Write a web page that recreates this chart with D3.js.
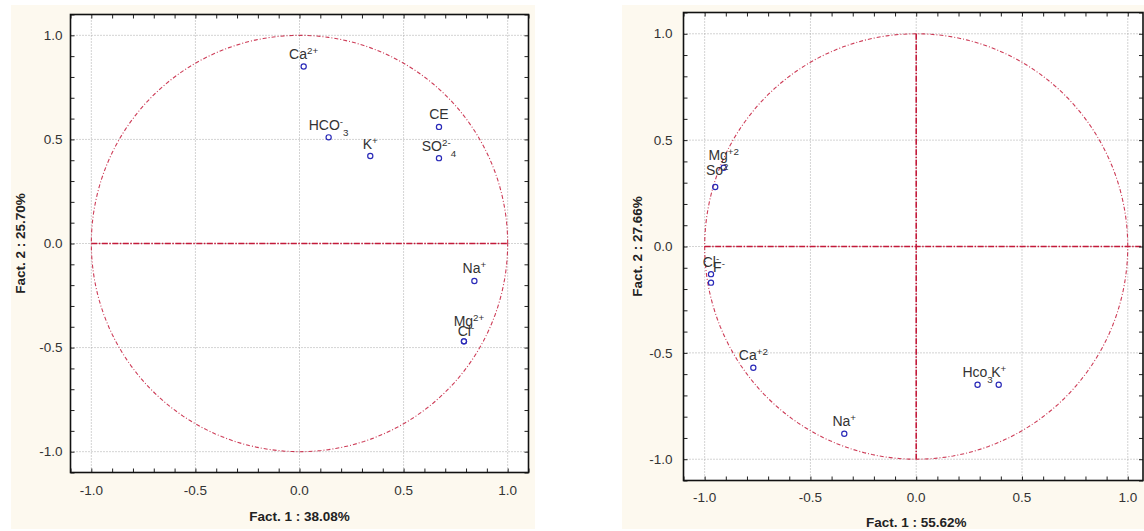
<!DOCTYPE html>
<html>
<head>
<meta charset="utf-8">
<script src="https://cdn.jsdelivr.net/npm/d3@7"></script>
<style>
  html, body { margin: 0; padding: 0; background: #fff; }
  svg { display: block; font-family: Arial, "Liberation Sans", sans-serif; }
</style>
</head>
<body>
<svg id="chart" width="1144" height="531"></svg>
<script>
// left plot: factor loadings, 38.08% / 25.70%
const leftNames = ["Ca^{2+}", "HCO^{-}_{3}", "K^{+}", "CE", "SO^{2-}_{4}", "Na^{+}", "Mg^{2+}", "Cl^{-}"];
const leftF1 = [0.02, 0.14, 0.34, 0.67, 0.67, 0.84, 0.79, 0.79];
const leftF2 = [0.85, 0.51, 0.42, 0.56, 0.41, -0.18, -0.47, -0.47];

// right plot: factor loadings, 55.62% / 27.66%
const rightNames = ["Mg^{+2}", "So^{2}", "Cl^{-}", "F^{-}", "Ca^{+2}", "Na^{+}", "Hco_{3}", "K^{+}"];
const rightF1 = [-0.91, -0.95, -0.97, -0.97, -0.77, -0.34, 0.29, 0.39];
const rightF2 = [0.37, 0.28, -0.13, -0.17, -0.57, -0.88, -0.65, -0.65];

const tickValues = [-1.0, -0.5, 0.0, 0.5, 1.0];
const minorTicks = d3.range(-11, 12).map(d => d / 10);
const xTitles = ["Fact. 1  : 38.08%", "Fact. 1  : 55.62%"];
const yTitles = ["Fact. 2  : 25.70%", "Fact. 2  : 27.66%"];

const RED = "#c41a3a";
const BLUE = "#2a2ab8";

const svg = d3.select("#chart");

// crude label markup: ^{..} superscript, _{..} subscript
function writeLabel(textSel, s) {
    const parts = s.match(/\^\{[^}]*\}|_\{[^}]*\}|[^^_]+/g);
    parts.forEach(p => {
        if (p[0] === "^") {
            textSel.append("tspan").attr("baseline-shift", "super")
                .attr("font-size", "70%").text(p.slice(2, -1));
        } else if (p[0] === "_") {
            textSel.append("tspan").attr("baseline-shift", "sub")
                .attr("font-size", "70%").text(p.slice(2, -1));
        } else {
            textSel.append("tspan").text(p);
        }
    });
}

function drawPanel(cfg) {
    const g = svg.append("g");

    g.append("rect")
        .attr("x", cfg.bg[0]).attr("y", cfg.bg[1])
        .attr("width", cfg.bg[2] - cfg.bg[0]).attr("height", cfg.bg[3] - cfg.bg[1])
        .attr("fill", "#fdf9ef");

    const x = d3.scaleLinear().domain(cfg.xDomain).range([cfg.left, cfg.right]);
    const y = d3.scaleLinear().domain([-1.1, 1.1]).range([cfg.bottom, cfg.top]);

    g.append("rect")
        .attr("x", cfg.left).attr("y", cfg.top)
        .attr("width", cfg.right - cfg.left).attr("height", cfg.bottom - cfg.top)
        .attr("fill", "#fff");

    // dotted grid at major ticks
    const grid = g.append("g")
        .attr("stroke", "#a8a8a8").attr("stroke-width", 1)
        .attr("stroke-dasharray", "1,2");
    grid.selectAll(".gx").data(tickValues).join("line")
        .attr("x1", d => x(d)).attr("x2", d => x(d))
        .attr("y1", cfg.top).attr("y2", cfg.bottom);
    grid.selectAll(".gy").data(tickValues).join("line")
        .attr("y1", d => y(d)).attr("y2", d => y(d))
        .attr("x1", cfg.left).attr("x2", cfg.right);

    const clipId = "clip" + cfg.id;
    svg.append("clipPath").attr("id", clipId)
        .append("rect")
        .attr("x", cfg.left).attr("y", cfg.top)
        .attr("width", cfg.right - cfg.left).attr("height", cfg.bottom - cfg.top);
    const plot = g.append("g").attr("clip-path", `url(#${clipId})`);

    // unit circle
    const circ = d3.range(0, 361, 2).map(a => [Math.cos(a * Math.PI / 180), Math.sin(a * Math.PI / 180)]);
    plot.append("path")
        .attr("d", d3.line().x(d => x(d[0])).y(d => y(d[1]))(circ))
        .attr("fill", "none").attr("stroke", RED).attr("stroke-width", 1.1)
        .attr("stroke-dasharray", "4,2,1,2").attr("opacity", 0.85);

    // zero lines
    plot.append("line")
        .attr("x1", x(-1)).attr("x2", x(cfg.hLineEnd))
        .attr("y1", y(0)).attr("y2", y(0))
        .attr("stroke", RED).attr("stroke-width", 1.6)
        .attr("stroke-dasharray", "6,1.5,1.5,1.5");
    if (cfg.vLine) {
        plot.append("line")
            .attr("x1", x(0)).attr("x2", x(0))
            .attr("y1", y(1)).attr("y2", y(-1))
            .attr("stroke", RED).attr("stroke-width", 1.6)
            .attr("stroke-dasharray", "6,1.5,1.5,1.5");
    }

    // points and labels
    const pts = cfg.names.map((n, i) => ({ name: n, f1: cfg.f1[i], f2: cfg.f2[i] }));
    plot.selectAll(".pt").data(pts).join("circle")
        .attr("cx", d => x(d.f1)).attr("cy", d => y(d.f2)).attr("r", 2.6)
        .attr("fill", "none").attr("stroke", BLUE).attr("stroke-width", 1.2);

    g.selectAll(".lab").data(pts).join("text")
        .attr("x", d => x(d.f1) + ((cfg.nudge[d.name] || [0, 0])[0]))
        .attr("y", d => y(d.f2) - 7.5 + ((cfg.nudge[d.name] || [0, 0])[1]))
        .attr("text-anchor", "middle")
        .attr("font-size", 14).attr("fill", "#333")
        .each(function(d) { writeLabel(d3.select(this), d.name); });

    // ticks, inside on all four sides
    const inside = (axis, k) => axis.tickValues(minorTicks).tickSize(k).tickFormat("");
    const axes = [
        [d3.axisBottom(x), `translate(0,${cfg.bottom})`, -4],
        [d3.axisTop(x), `translate(0,${cfg.top})`, -4],
        [d3.axisLeft(y), `translate(${cfg.left},0)`, -4],
        [d3.axisRight(y), `translate(${cfg.right},0)`, -4]
    ];
    axes.forEach(([ax, tr, k]) => {
        const a = g.append("g").attr("transform", tr).call(inside(ax, k));
        a.select(".domain").remove();
        a.selectAll("line").attr("stroke", "#222").attr("stroke-width", 1);
    });

    // frame
    g.append("rect")
        .attr("x", cfg.left).attr("y", cfg.top)
        .attr("width", cfg.right - cfg.left).attr("height", cfg.bottom - cfg.top)
        .attr("fill", "none").attr("stroke", "#111").attr("stroke-width", 1.6);

    // tick labels (plain hyphen, as in the original)
    const fmt = v => d3.format(".1f")(v).replace("\u2212", "-");
    g.selectAll(".xl").data(tickValues).join("text")
        .attr("x", d => x(d)).attr("y", cfg.bottom + cfg.xLabGap)
        .attr("text-anchor", "middle").attr("font-size", 13.5).attr("fill", "#333")
        .text(d => fmt(d));
    g.selectAll(".yl").data(tickValues).join("text")
        .attr("x", cfg.left - cfg.yLabGap).attr("y", d => y(d)).attr("dy", "0.35em")
        .attr("text-anchor", "end").attr("font-size", 13.5).attr("fill", "#333")
        .text(d => fmt(d));

    // axis titles
    g.append("text")
        .attr("x", x(0)).attr("y", cfg.bottom + cfg.xTitleGap)
        .attr("text-anchor", "middle").attr("font-size", 13.5).attr("font-weight", "bold")
        .attr("fill", "#222").text(cfg.xTitle);
    g.append("text")
        .attr("transform", `translate(${cfg.yTitleX},${y(0)}) rotate(-90)`)
        .attr("text-anchor", "middle").attr("dy", "0.35em")
        .attr("font-size", 13.5).attr("font-weight", "bold")
        .attr("fill", "#222").text(cfg.yTitle);
}

drawPanel({
    id: 0, names: leftNames, f1: leftF1, f2: leftF2,
    bg: [11, 5, 535, 529],
    left: 70.5, right: 528.5, top: 14.5, bottom: 472.5,
    xDomain: [-1.1, 1.1], hLineEnd: 1.0, vLine: false,
    xLabGap: 22, yLabGap: 8, xTitleGap: 48, yTitleX: 20,
    xTitle: xTitles[0], yTitle: yTitles[0],
    nudge: { "Mg^{2+}": [5, -8], "Cl^{-}": [2, 2] }
});

drawPanel({
    id: 1, names: rightNames, f1: rightF1, f2: rightF2,
    bg: [622, 5, 1144, 529],
    left: 683.5, right: 1143, top: 12.5, bottom: 480.5,
    xDomain: [-1.1, 1.072], hLineEnd: 1.1, vLine: true,
    xLabGap: 21, yLabGap: 11, xTitleGap: 46, yTitleX: 637,
    xTitle: xTitles[1], yTitle: yTitles[1],
    nudge: { "So^{2}": [2, -4], "F^{-}": [8, -3] }
});
</script>
</body>
</html>
